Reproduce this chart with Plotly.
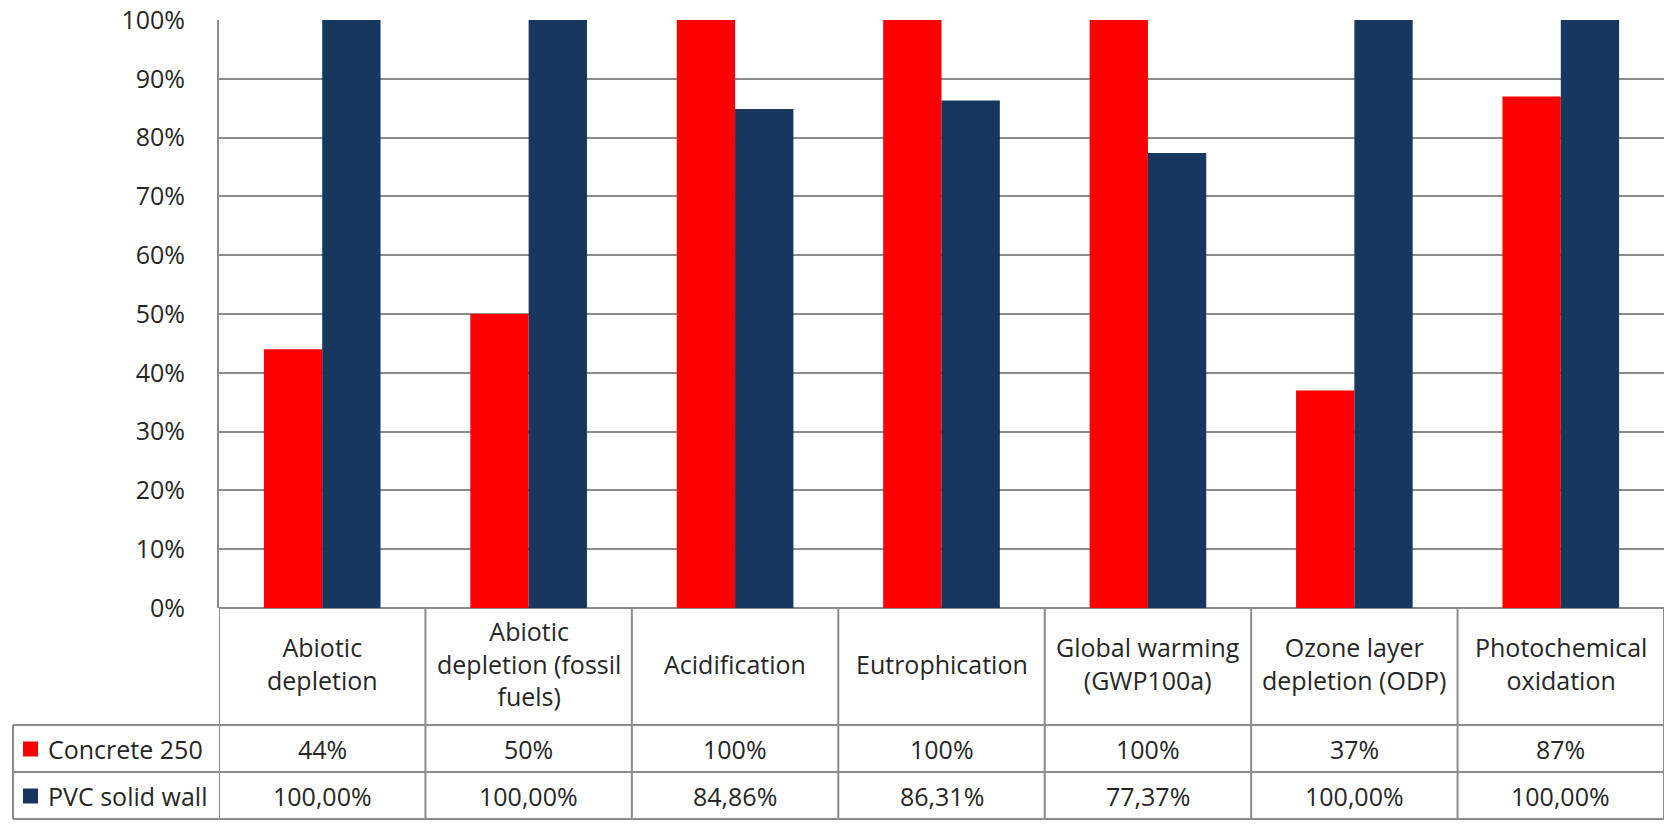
import plotly.graph_objects as go

# Impact categories (label lines as shown in the table header)
categories = [
    "Abiotic<br>depletion",
    "Abiotic<br>depletion (fossil<br>fuels)",
    "Acidification",
    "Eutrophication",
    "Global warming<br>(GWP100a)",
    "Ozone layer<br>depletion (ODP)",
    "Photochemical<br>oxidation",
]
series_names = ["Concrete 250", "PVC solid wall"]
concrete_250 = [44, 50, 100, 100, 100, 37, 87]
pvc_solid_wall = [100.00, 100.00, 84.86, 86.31, 77.37, 100.00, 100.00]
y_ticks = [0, 10, 20, 30, 40, 50, 60, 70, 80, 90, 100]

RED = "#FF0000"
NAVY = "#17375E"
GRID = "#8C8C8C"
TEXT = "#262626"
FONT = "Open Sans"
FS = 25

W, H = 1665, 827


def fx(p):
    return p / W


def fy(p):
    return 1 - p / H


# pixel layout of plot area and data table
PLOT_L, PLOT_R = 219, 1664
PLOT_T, PLOT_B = 20, 608
ROW1_B, ROW2_B, ROW3_B = 725, 772, 819
LEG_L = 13

idx = list(range(len(categories)))

fig = go.Figure()
fig.add_trace(go.Bar(x=idx, y=concrete_250, name=series_names[0],
                     marker=dict(color=RED, line=dict(width=0))))
fig.add_trace(go.Bar(x=idx, y=pvc_solid_wall, name=series_names[1],
                     marker=dict(color=NAVY, line=dict(width=0))))

shapes = []
annotations = []
line_style = dict(color=GRID, width=2)

# horizontal table rules
for yb in (ROW1_B, ROW2_B, ROW3_B):
    shapes.append(dict(type="line", xref="paper", yref="paper",
                       x0=fx(LEG_L), x1=fx(PLOT_R), y0=fy(yb), y1=fy(yb),
                       line=line_style, layer="above"))
# vertical rule of legend column
shapes.append(dict(type="line", xref="paper", yref="paper",
                   x0=fx(LEG_L), x1=fx(LEG_L), y0=fy(ROW1_B), y1=fy(ROW3_B),
                   line=line_style, layer="above"))
# category column boundaries
for i in range(len(categories) + 1):
    shapes.append(dict(type="line", xref="x", yref="paper",
                       x0=i - 0.5, x1=i - 0.5, y0=fy(PLOT_B), y1=fy(ROW3_B),
                       line=line_style, layer="above"))

# header labels
head_mid = (PLOT_B + ROW1_B) / 2 - 3
for i, cat in enumerate(categories):
    annotations.append(dict(x=i, y=fy(head_mid), xref="x", yref="paper",
                            text=cat, showarrow=False, xanchor="center", yanchor="middle",
                            align="center",
                            font=dict(family=FONT, size=FS, color=TEXT)))

# data rows
rows = [
    (series_names[0], RED, [f"{v:.0f}%" for v in concrete_250], (ROW1_B + ROW2_B) / 2),
    (series_names[1], NAVY, [f"{v:.2f}%".replace(".", ",") for v in pvc_solid_wall], (ROW2_B + ROW3_B) / 2),
]
for name, color, labels, yc in rows:
    shapes.append(dict(type="rect", xref="paper", yref="paper",
                       x0=fx(23), x1=fx(38), y0=fy(yc + 8), y1=fy(yc - 7),
                       fillcolor=color, line=dict(width=0), layer="above"))
    annotations.append(dict(x=fx(46), y=fy(yc), xref="paper", yref="paper",
                            text=name, showarrow=False, xanchor="left", yanchor="middle",
                            font=dict(family=FONT, size=FS, color=TEXT)))
    for i, lab in enumerate(labels):
        annotations.append(dict(x=i, y=fy(yc), xref="x", yref="paper",
                                text=lab, showarrow=False, xanchor="center", yanchor="middle",
                                font=dict(family=FONT, size=FS, color=TEXT)))

fig.update_layout(
    width=W, height=H,
    margin=dict(l=0, r=0, t=0, b=0, autoexpand=False),
    paper_bgcolor="white", plot_bgcolor="white",
    barmode="group", bargap=0.435, bargroupgap=0,
    showlegend=False,
    font=dict(family=FONT, size=FS, color=TEXT),
    shapes=shapes, annotations=annotations,
    xaxis=dict(domain=[fx(PLOT_L), fx(PLOT_R)], range=[-0.5, len(categories) - 0.5],
               showticklabels=False, showgrid=False, zeroline=False, showline=False,
               automargin=False, fixedrange=True),
    yaxis=dict(domain=[fy(PLOT_B), fy(PLOT_T)], range=[0, 100],
               tickvals=y_ticks, ticktext=[f"{v}%" for v in y_ticks],
               showgrid=True, gridcolor=GRID, gridwidth=2,
               zeroline=True, zerolinecolor=GRID, zerolinewidth=2,
               showline=True, linecolor=GRID, linewidth=2,
               ticks="", ticklabelstandoff=27, automargin=False,
               tickfont=dict(family=FONT, size=FS, color=TEXT),
               fixedrange=True),
)

fig.write_html("out.html")
